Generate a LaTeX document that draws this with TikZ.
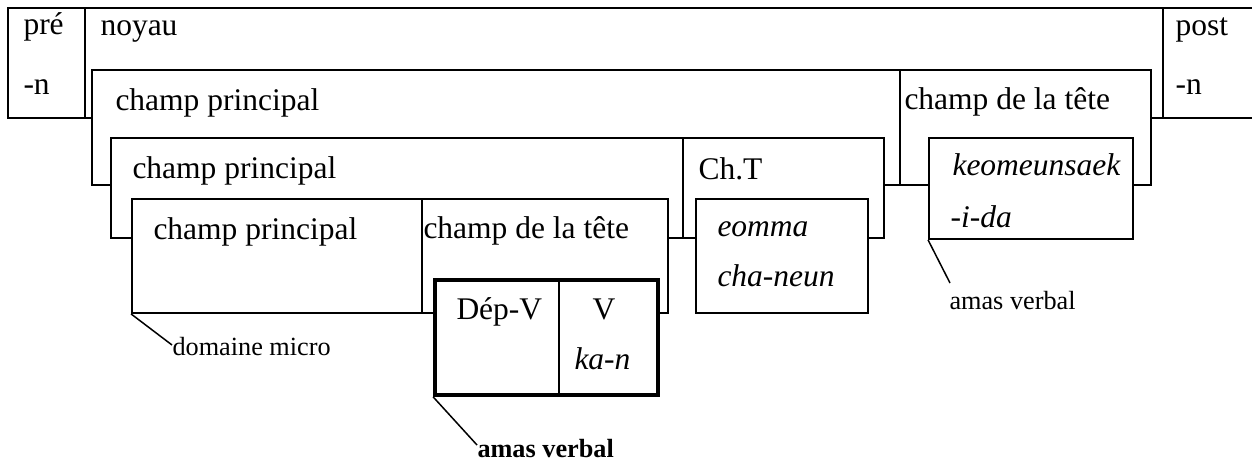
\documentclass[tikz,border=0pt]{standalone}
\usepackage{fontspec}
\setmainfont{Liberation Serif}
\usetikzlibrary{fit}
\begin{document}
\begin{tikzpicture}[x=0.4pt,y=-0.4pt,
  cell/.style={draw, line width=0.75pt, fill=white, inner sep=0pt},
  heavy/.style={draw, line width=1.5pt, inner sep=0pt},
  lbl/.style={anchor=base west, inner sep=0pt, font=\fontsize{12.6}{15}\selectfont},
  ilbl/.style={lbl, font=\fontsize{12.6}{15}\selectfont\itshape},
  small/.style={anchor=base west, inner sep=0pt, font=\fontsize{10.5}{12}\selectfont},
  leader/.style={line width=0.6pt}]
\useasboundingbox (0,0) rectangle (1252,464);
% level 1
\node[cell, fit={(8,8) (85,118)}] (pre) {};
\node[cell, fit={(85,8) (1163,118)}] (noyau) {};
\node[cell, fit={(1163,8) (1262,118)}] (post) {};
% level 2
\node[cell, fit={(92,70) (900,185)}] (cp2) {};
\node[cell, fit={(900,70) (1151,185)}] (ct2) {};
% level 3
\node[cell, fit={(111,138) (683,238)}] (cp3) {};
\node[cell, fit={(683,138) (884,238)}] (cht) {};
\node[cell, fit={(929,138) (1133,239)}] (keo) {};
% level 4
\node[cell, fit={(132,199) (422,313)}] (cp4) {};
\node[cell, fit={(422,199) (668,313)}] (ct4) {};
\node[cell, fit={(696,199) (868,313)}] (eom) {};
% verbal cluster
\node[cell, fit={(435,280) (559,395)}] (dep) {};
\node[cell, fit={(559,280) (658,395)}] (vv) {};
\node[heavy, fit={(435,280) (658,395)}] (amas) {};
% texts
\node[lbl] (tpre) at (23,35) {pré};
\node[lbl] (tpren) at (23,95) {-n};
\node[lbl] (tnoy) at (100,36) {noyau};
\node[lbl] (tpost) at (1175,36) {post};
\node[lbl] (tpostn) at (1175,95) {-n};
\node[lbl] (tcp2) at (115,111) {champ principal};
\node[lbl] (tct2) at (904,110) {champ de la tête};
\node[lbl] (tcp3) at (132,179) {champ principal};
\node[lbl] (tcht) at (698,180) {Ch.T};
\node[ilbl] (tkeo) at (952,176) {keomeunsaek};
\node[ilbl] (tida) at (950,228) {-i-da};
\node[lbl] (tcp4) at (153,240) {champ principal};
\node[lbl] (tct4) at (423,239) {champ de la tête};
\node[ilbl] (teom) at (717,237) {eomma};
\node[ilbl] (tcha) at (717,287) {cha-neun};
\node[lbl] (tdep) at (456,320) {Dép-V};
\node[lbl] (tv) at (592,320) {V};
\node[ilbl] (tkan) at (574,370) {ka-n};
\node[small] (tdm) at (172,356) {domaine micro};
\node[small, font=\fontsize{10.5}{12}\selectfont\bfseries] (tav1) at (477,458) {amas verbal};
\node[small] (tav2) at (949,310) {amas verbal};
% leaders
\coordinate (edm) at (172,345);
\coordinate (eav1) at (477,445);
\coordinate (eav2) at (950,283);
\draw[leader] (cp4.south west) -- (edm);
\draw[leader] (amas.south west) -- (eav1);
\draw[leader] (keo.south west) -- (eav2);
\end{tikzpicture}
\end{document}
